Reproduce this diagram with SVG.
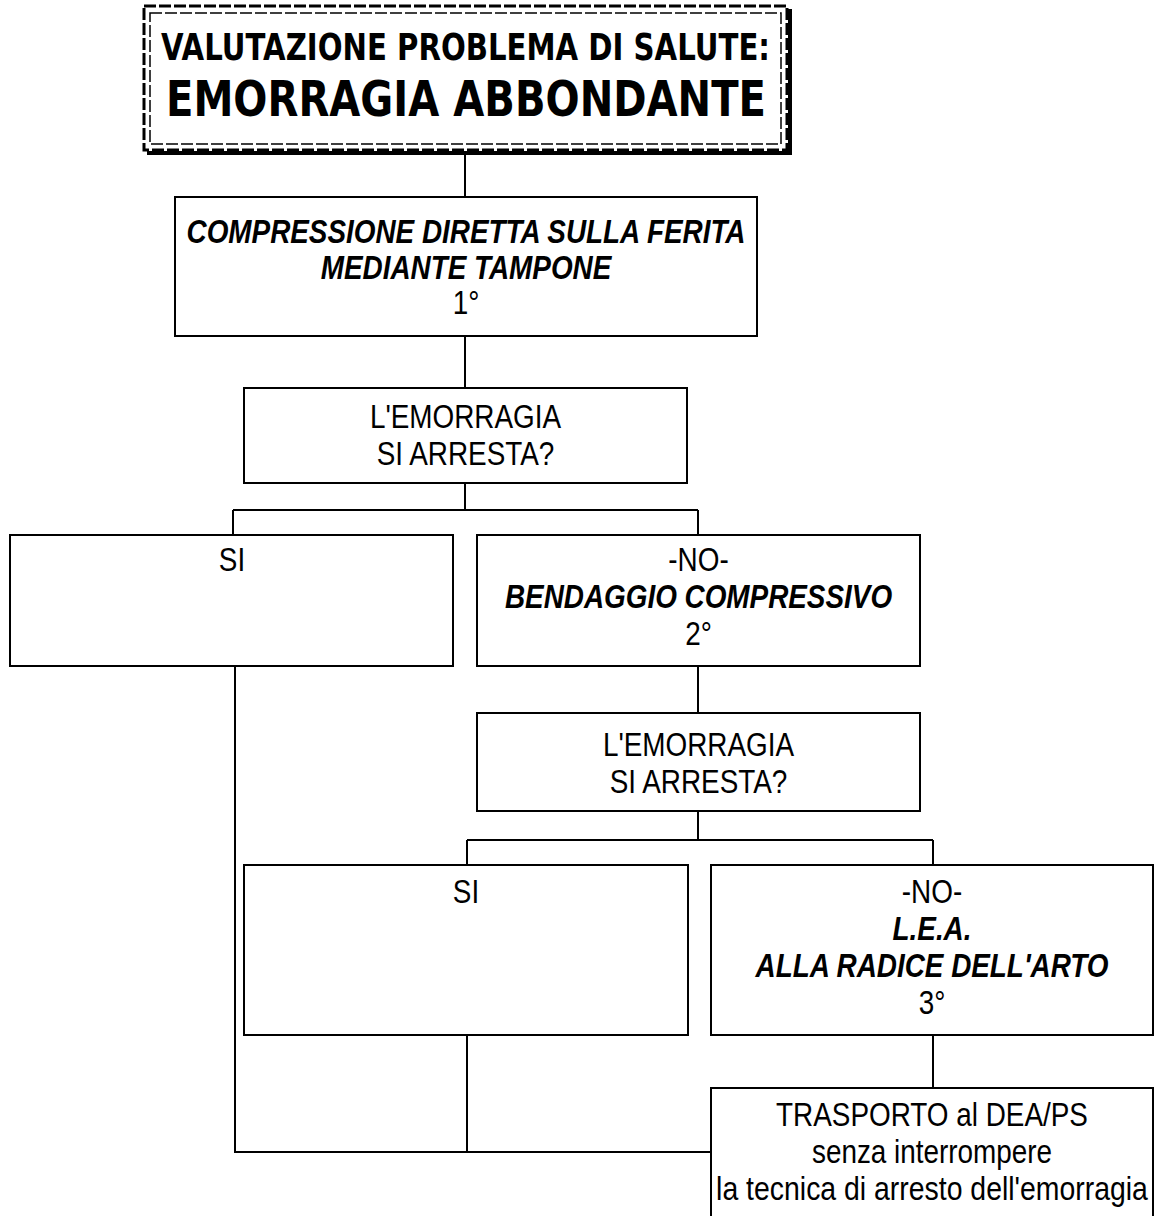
<svg xmlns="http://www.w3.org/2000/svg" width="1154" height="1216" viewBox="0 0 1154 1216">
<style>
  .box { fill: #fff; stroke: #000; stroke-width: 2; }
  .conn { fill: none; stroke: #000; stroke-width: 2; }
  .t { font-family: "Liberation Sans", Arial, sans-serif; font-size: 33px; fill: #000; text-anchor: middle; }
  .bi { font-weight: bold; font-style: italic; }
  .title { font-family: "DejaVu Sans", Verdana, sans-serif; font-weight: bold; fill: #000; }
</style>
<rect width="1154" height="1216" fill="#fff"/>

<g id="connectors">
  <path class="conn" d="M465 153 V197"/>
  <path class="conn" d="M465 336 V388"/>
  <path class="conn" d="M465 483 V510 M233 510 H698 M233 510 V535 M698 510 V535"/>
  <path class="conn" d="M235 666 V1152 H711"/>
  <path class="conn" d="M698 666 V713"/>
  <path class="conn" d="M698 811 V840 M467 840 H933 M467 840 V865 M933 840 V865"/>
  <path class="conn" d="M467 1035 V1152"/>
  <path class="conn" d="M933 1035 V1088"/>
</g>

<g id="title">
  <path d="M790 9 V153 H147" fill="none" stroke="#000" stroke-width="4"/>
  <rect x="144" y="6" width="643" height="144" fill="#fff" stroke="#000" stroke-width="3" stroke-dasharray="12 3"/>
  <rect x="150" y="13" width="631" height="131" fill="none" stroke="#000" stroke-width="1.5" stroke-dasharray="12 3"/>
  <text class="title" x="161" y="60" font-size="37" textLength="609" lengthAdjust="spacingAndGlyphs">VALUTAZIONE PROBLEMA DI SALUTE:</text>
  <text class="title" x="166" y="116" font-size="50" textLength="600" lengthAdjust="spacingAndGlyphs">EMORRAGIA ABBONDANTE</text>
</g>

<g id="n1">
  <rect class="box" x="175" y="197" width="582" height="139"/>
  <g transform="translate(466 0) scale(0.845 1)">
    <text class="t bi" x="0" y="243">COMPRESSIONE DIRETTA SULLA FERITA</text>
    <text class="t bi" x="0" y="279">MEDIANTE TAMPONE</text>
    <text class="t" x="0" y="314">1°</text>
  </g>
</g>

<g id="n2">
  <rect class="box" x="244" y="388" width="443" height="95"/>
  <g transform="translate(465.5 0) scale(0.845 1)">
    <text class="t" x="0" y="428">L'EMORRAGIA</text>
    <text class="t" x="0" y="465">SI ARRESTA?</text>
  </g>
</g>

<g id="n3">
  <rect class="box" x="10" y="535" width="443" height="131"/>
  <g transform="translate(232 0) scale(0.845 1)">
    <text class="t" x="0" y="571">SI</text>
  </g>
</g>

<g id="n4">
  <rect class="box" x="477" y="535" width="443" height="131"/>
  <g transform="translate(698.5 0) scale(0.845 1)">
    <text class="t" x="0" y="571">-NO-</text>
    <text class="t bi" x="0" y="608">BENDAGGIO COMPRESSIVO</text>
    <text class="t" x="0" y="645">2°</text>
  </g>
</g>

<g id="n5">
  <rect class="box" x="477" y="713" width="443" height="98"/>
  <g transform="translate(698.5 0) scale(0.845 1)">
    <text class="t" x="0" y="756">L'EMORRAGIA</text>
    <text class="t" x="0" y="793">SI ARRESTA?</text>
  </g>
</g>

<g id="n6">
  <rect class="box" x="244" y="865" width="444" height="170"/>
  <g transform="translate(466 0) scale(0.845 1)">
    <text class="t" x="0" y="903">SI</text>
  </g>
</g>

<g id="n7">
  <rect class="box" x="711" y="865" width="442" height="170"/>
  <g transform="translate(932 0) scale(0.845 1)">
    <text class="t" x="0" y="903">-NO-</text>
    <text class="t bi" x="0" y="940">L.E.A.</text>
    <text class="t bi" x="0" y="977">ALLA RADICE DELL'ARTO</text>
    <text class="t" x="0" y="1014">3°</text>
  </g>
</g>

<g id="n8">
  <rect class="box" x="711" y="1088" width="442" height="140"/>
  <g transform="translate(932 0) scale(0.845 1)">
    <text class="t" x="0" y="1126">TRASPORTO al DEA/PS</text>
    <text class="t" x="0" y="1163">senza interrompere</text>
    <text class="t" x="0" y="1200" textLength="511" lengthAdjust="spacingAndGlyphs">la tecnica di arresto dell'emorragia</text>
  </g>
</g>
</svg>
